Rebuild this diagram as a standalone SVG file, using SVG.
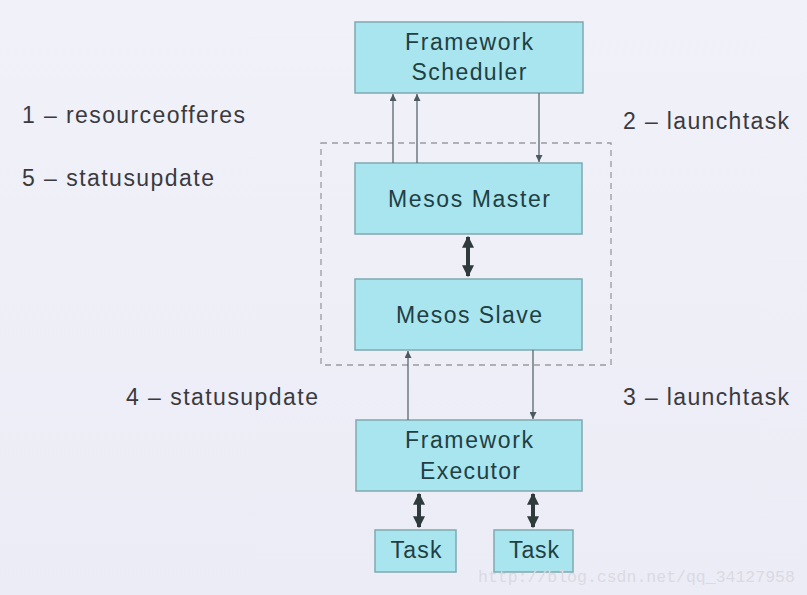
<svg xmlns="http://www.w3.org/2000/svg" width="807" height="595" viewBox="0 0 807 595">
<defs>
<linearGradient id="bg" x1="0" y1="0" x2="0" y2="1">
<stop offset="0" stop-color="#f1f1f9"/>
<stop offset="1" stop-color="#ececf6"/>
</linearGradient>
<marker id="ah" viewBox="0 0 10 10" refX="10" refY="5" markerWidth="7" markerHeight="7" markerUnits="userSpaceOnUse" orient="auto">
<path d="M0,0 L10,5 L0,10 z" fill="#4a5a5e"/>
</marker>
<marker id="th" viewBox="0 0 10 10" refX="9" refY="5" markerWidth="3.2" markerHeight="3" orient="auto-start-reverse">
<path d="M0,0 L10,5 L0,10 z" fill="#2e3a3c"/>
</marker>
<style>
.box{fill:#a9e5ee;stroke:#7fa9b0;stroke-width:1.5}
.bt{font-family:"Liberation Sans",Arial,sans-serif;font-size:23px;fill:#1f3f44;text-anchor:middle}
.lb{font-family:"Liberation Sans",Arial,sans-serif;font-size:23px;fill:#3a3a3e}
.thin{stroke:#5a686c;stroke-width:1.3;fill:none;marker-end:url(#ah)}
.thick{stroke:#2e3a3c;stroke-width:4;fill:none;marker-start:url(#th);marker-end:url(#th)}
</style>
</defs>
<rect width="807" height="595" fill="url(#bg)"/>
<rect x="321" y="143" width="290" height="222" fill="none" stroke="#9a9aa4" stroke-width="1.3" stroke-dasharray="6,5"/>
<g id="framework-scheduler"><rect class="box" x="355" y="22" width="228" height="71"/><text class="bt" x="469" y="50" textLength="128" lengthAdjust="spacing">Framework</text><text class="bt" x="469" y="80" textLength="115" lengthAdjust="spacing">Scheduler</text></g>
<g id="mesos-master"><rect class="box" x="355" y="163" width="227" height="71"/><text class="bt" x="469" y="207" textLength="162" lengthAdjust="spacing">Mesos Master</text></g>
<g id="mesos-slave"><rect class="box" x="355" y="279" width="227" height="71"/><text class="bt" x="469" y="323" textLength="146" lengthAdjust="spacing">Mesos Slave</text></g>
<g id="framework-executor"><rect class="box" x="356" y="420" width="226" height="71"/><text class="bt" x="469" y="448" textLength="128" lengthAdjust="spacing">Framework</text><text class="bt" x="470" y="479" textLength="100" lengthAdjust="spacing">Executor</text></g>
<g id="task1"><rect class="box" x="375" y="530" width="81" height="42"/><text class="bt" x="416" y="558" textLength="51" lengthAdjust="spacing">Task</text></g>
<g id="task2"><rect class="box" x="494" y="530" width="79" height="42"/><text class="bt" x="534" y="558" textLength="50" lengthAdjust="spacing">Task</text></g>
<g id="connectors">
<line class="thin" x1="393" y1="163" x2="393" y2="94"/>
<line class="thin" x1="417" y1="163" x2="417" y2="94"/>
<line class="thin" x1="539" y1="93" x2="539" y2="162"/>
<line class="thick" x1="468" y1="237" x2="468" y2="276"/>
<line class="thin" x1="408" y1="420" x2="408" y2="351"/>
<line class="thin" x1="533" y1="350" x2="533" y2="419"/>
<line class="thick" x1="419" y1="494" x2="419" y2="527"/>
<line class="thick" x1="533" y1="494" x2="533" y2="527"/>
</g>
<g id="labels">
<text class="lb" x="22" y="123" textLength="223" lengthAdjust="spacing">1 – resourceofferes</text>
<text class="lb" x="22" y="186" textLength="192" lengthAdjust="spacing">5 – statusupdate</text>
<text class="lb" x="623" y="129" textLength="166" lengthAdjust="spacing">2 – launchtask</text>
<text class="lb" x="126" y="405" textLength="192" lengthAdjust="spacing">4 – statusupdate</text>
<text class="lb" x="623" y="405" textLength="166" lengthAdjust="spacing">3 – launchtask</text>
</g>
<text x="478" y="582" font-family="Liberation Mono,monospace" font-size="16.5" fill="#dadae2">http://blog.csdn.net/qq_34127958</text>
</svg>
